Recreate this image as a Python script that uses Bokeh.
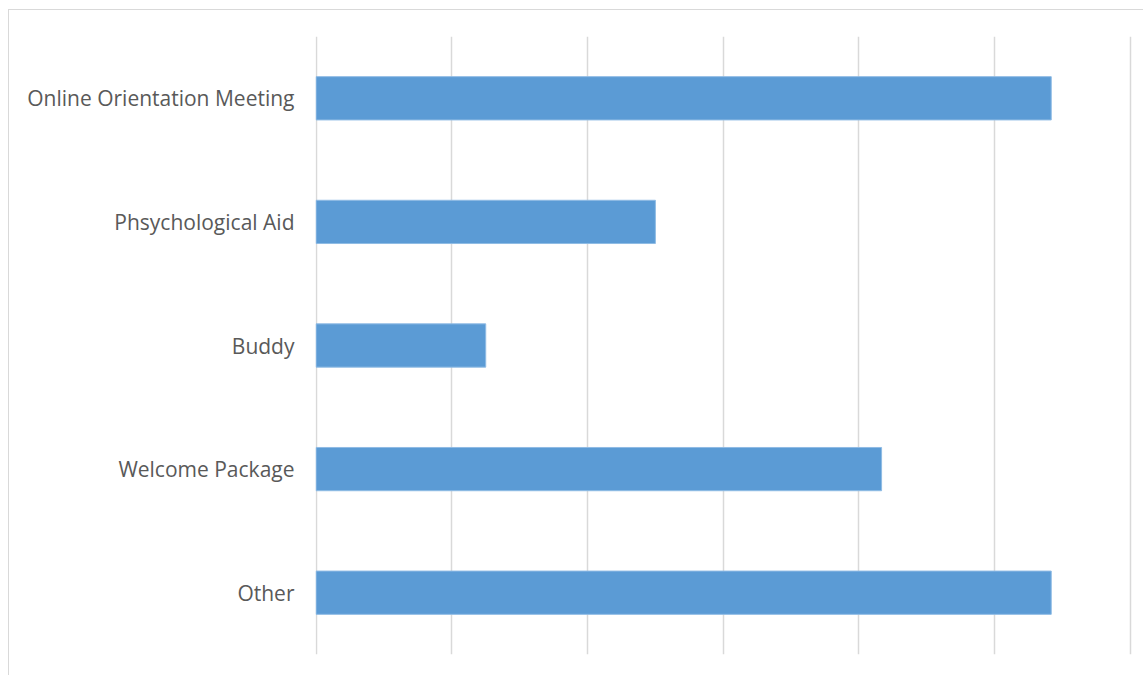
from bokeh.plotting import figure
from bokeh.models import FixedTicker, FactorRange, Range1d
from bokeh.embed import file_html
from bokeh.resources import INLINE

categories = ["Online Orientation Meeting", "Phsychological Aid", "Buddy", "Welcome Package", "Other"]
values = [13, 6, 3, 10, 13]
grid_ticks = [0, 2.4, 4.8, 7.2, 9.6, 12.0, 14.4]

factors = list(reversed(categories))

p = figure(width=1135, height=666, y_range=FactorRange(factors=factors, range_padding=0),
           x_range=Range1d(-0.01, 14.49), output_backend="svg", toolbar_location=None,
           min_border_left=306, min_border_right=9, min_border_top=26, min_border_bottom=22)
p.styles = {"border-top": "1px solid #d9d9d9", "border-left": "1px solid #d9d9d9",
            "margin-left": "8px", "margin-top": "9px"}

p.hbar(y=categories, right=values, left=0, height=0.35, fill_color="#5b9bd5",
       line_color="#8fbbe4", line_width=1)

p.xaxis.visible = False
p.xgrid.ticker = FixedTicker(ticks=grid_ticks)
p.xgrid.grid_line_color = "#d9d9d9"
p.xgrid.grid_line_width = 1.5
p.ygrid.grid_line_color = None
p.outline_line_color = None

ax = p.yaxis[0]
ax.axis_line_color = None
ax.major_tick_line_color = None
ax.minor_tick_line_color = None
ax.major_tick_out = 0
ax.major_tick_in = 0
ax.major_label_standoff = 21
ax.major_label_text_font = "Open Sans"
ax.major_label_text_font_size = "21px"
ax.major_label_text_color = "#595959"

open("out.html", "w").write(file_html(p, INLINE))
